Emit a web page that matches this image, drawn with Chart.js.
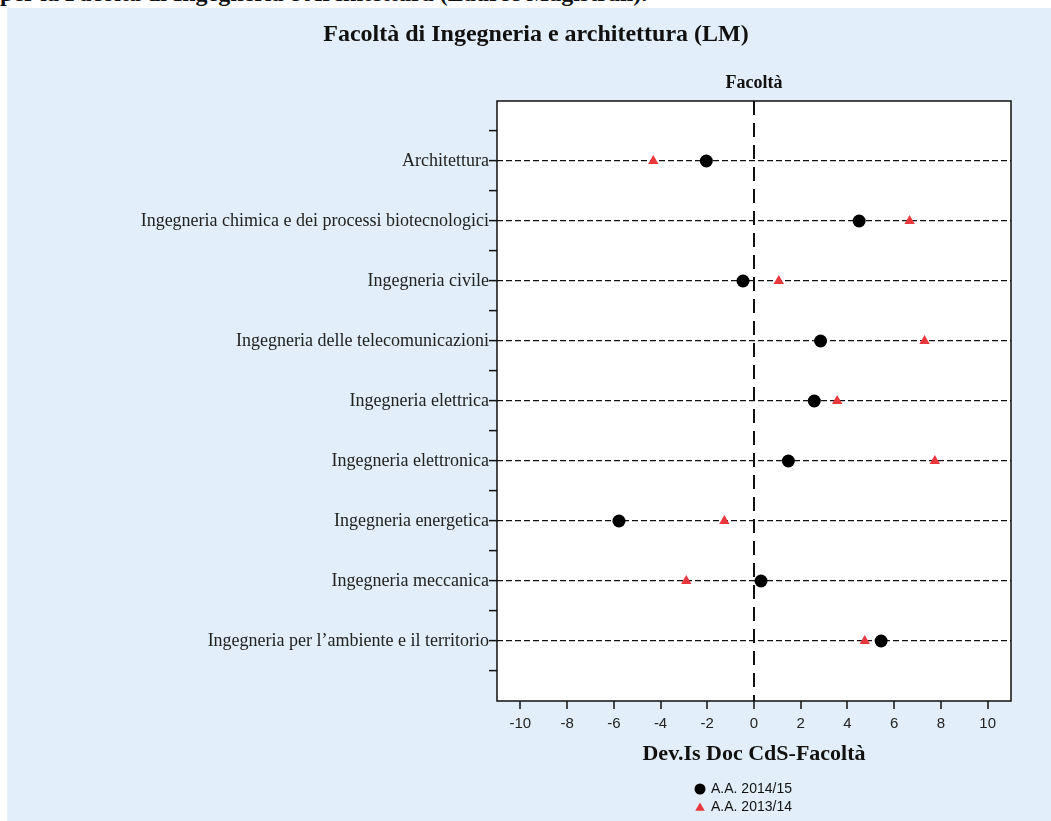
<!DOCTYPE html>
<html>
<head>
<meta charset="utf-8">
<script src="https://cdn.jsdelivr.net/npm/chart.js@4.4.1/dist/chart.umd.min.js"></script>
<style>
  html, body { margin: 0; padding: 0; background: #ffffff; }
  #wrap { position: relative; width: 1051px; height: 821px; overflow: hidden; }
  #panel { position: absolute; left: 7px; top: 8px; width: 1044px; height: 813px; background: #e2eefa; }
  #cut { position: absolute; left: 0; top: 0; width: 1051px; height: 8px; overflow: hidden; }
  #cut div { position: absolute; left: 0; top: -19px; white-space: nowrap; font: bold 24px/24px "Liberation Serif", serif; color: #111; }
  #c { position: absolute; left: 0; top: 0; }
</style>
</head>
<body>
<div id="wrap">
  <div id="cut"><div>per la Facoltà di Ingegneria e Architettura (Lauree Magistrali).</div></div>
  <div id="panel"></div>
  <canvas id="c" width="1051" height="821"></canvas>
</div>
<script>
// ---- data ----
const chartTitle = "Facoltà di Ingegneria e architettura (LM)";
const panelTitle = "Facoltà";
const xAxisTitle = "Dev.Is Doc CdS-Facoltà";
const categories = [
  "Architettura",
  "Ingegneria chimica e dei processi biotecnologici",
  "Ingegneria civile",
  "Ingegneria delle telecomunicazioni",
  "Ingegneria elettrica",
  "Ingegneria elettronica",
  "Ingegneria energetica",
  "Ingegneria meccanica",
  "Ingegneria per l\u2019ambiente e il territorio"
];
const seriesLabels = ["A.A. 2014/15", "A.A. 2013/14"];
const values201415 = [-2.04, 4.50, -0.47, 2.85, 2.58, 1.47, -5.78, 0.30, 5.44];
const values201314 = [-4.31, 6.66, 1.06, 7.30, 3.56, 7.74, -1.27, -2.90, 4.74];
const xTickValues = [-10, -8, -6, -4, -2, 0, 2, 4, 6, 8, 10];

// ---- helpers ----
const toPoints = vals => vals.map((v, i) => ({ x: v, y: i + 1 }));
const yTickValues = [];
for (let k = 1; k <= categories.length * 2 + 1; k++) yTickValues.push(k / 2);

const PLOT = { left: 497, top: 101, right: 1011, bottom: 701 };

const plotFrame = {
  id: 'plotFrame',
  beforeDraw(chart) {
    const { ctx, chartArea: a } = chart;
    ctx.save();
    ctx.fillStyle = '#ffffff';
    ctx.fillRect(a.left, a.top, a.right - a.left, a.bottom - a.top);
    ctx.restore();
  },
  afterDraw(chart) {
    const { ctx, chartArea: a } = chart;
    ctx.save();
    ctx.strokeStyle = '#111';
    ctx.lineWidth = 1.5;
    ctx.strokeRect(a.left, a.top, a.right - a.left, a.bottom - a.top);

    // titles
    ctx.fillStyle = '#111';
    ctx.textAlign = 'center';
    ctx.textBaseline = 'middle';
    ctx.font = 'bold 24px "Liberation Serif", serif';
    ctx.fillText(chartTitle, 536, 35);
    ctx.font = 'bold 18px "Liberation Serif", serif';
    ctx.fillText(panelTitle, (a.left + a.right) / 2, 83);

    // legend
    const ds = chart.data.datasets;
    const lx = 700, ly = [789, 807];
    ctx.textAlign = 'left';
    ctx.font = '14px "Liberation Sans", Arial, sans-serif';
    ds.forEach((d, i) => {
      ctx.fillStyle = d.backgroundColor;
      ctx.beginPath();
      if (d.pointStyle === 'triangle') {
        const r = 5.5, y = ly[i] + 1;
        ctx.moveTo(lx, y - r);
        ctx.lineTo(lx + r * Math.sin(2 * Math.PI / 3), y + r / 2);
        ctx.lineTo(lx - r * Math.sin(2 * Math.PI / 3), y + r / 2);
        ctx.closePath();
      } else {
        ctx.arc(lx, ly[i], 5.5, 0, Math.PI * 2);
      }
      ctx.fill();
      ctx.fillStyle = '#111';
      ctx.fillText(d.label, lx + 11, ly[i]);
    });
    ctx.restore();
  }
};

new Chart(document.getElementById('c'), {
  type: 'scatter',
  data: {
    datasets: [
      {
        label: seriesLabels[0],
        data: toPoints(values201415),
        pointStyle: 'circle',
        pointRadius: 6.5,
        backgroundColor: '#000000',
        borderColor: '#000000',
        borderWidth: 0
      },
      {
        label: seriesLabels[1],
        data: toPoints(values201314),
        pointStyle: 'triangle',
        pointRadius: 6,
        backgroundColor: '#e8383d',
        borderColor: '#e8383d',
        borderWidth: 0
      }
    ]
  },
  options: {
    responsive: false,
    animation: false,
    layout: { padding: { left: 0, right: 1051 - PLOT.right, top: PLOT.top, bottom: 0 } },
    plugins: {
      legend: { display: false },
      title: { display: false },
      tooltip: { enabled: false }
    },
    scales: {
      x: {
        type: 'linear',
        position: 'bottom',
        min: -11,
        max: 11,
        afterBuildTicks: s => { s.ticks = xTickValues.map(v => ({ value: v })); },
        afterFit: s => { s.height = 821 - PLOT.bottom; },
        ticks: {
          autoSkip: false,
          maxRotation: 0,
          padding: 6,
          color: '#222',
          font: { family: '"Liberation Sans", Arial, sans-serif', size: 15 },
          callback: v => String(v)
        },
        grid: {
          drawOnChartArea: true,
          color: c => (c.tick && c.tick.value === 0 ? '#111' : 'rgba(0,0,0,0)'),
          lineWidth: 2,
          tickColor: '#111',
          tickLength: 8,
          tickWidth: 1.5
        },
        border: { display: false, dash: [14, 8] },
        title: {
          display: true,
          text: xAxisTitle,
          color: '#111',
          font: { family: '"Liberation Serif", serif', size: 22, weight: 'bold' },
          padding: { top: 0, bottom: 53 }
        }
      },
      y: {
        type: 'linear',
        min: 0,
        max: 10,
        reverse: true,
        afterBuildTicks: s => { s.ticks = yTickValues.map(v => ({ value: v })); },
        afterFit: s => { s.width = PLOT.left; },
        ticks: {
          autoSkip: false,
          padding: 0,
          color: '#222',
          font: { family: '"Liberation Serif", serif', size: 18 },
          callback: v => (Number.isInteger(v) ? categories[v - 1] : '')
        },
        grid: {
          drawOnChartArea: true,
          color: c => (c.tick && Number.isInteger(c.tick.value) ? '#111' : 'rgba(0,0,0,0)'),
          lineWidth: 1.2,
          tickColor: '#111',
          tickLength: 8,
          tickWidth: 1.5
        },
        border: { display: false, dash: [6, 3] }
      }
    }
  },
  plugins: [plotFrame]
});
</script>
</body>
</html>
